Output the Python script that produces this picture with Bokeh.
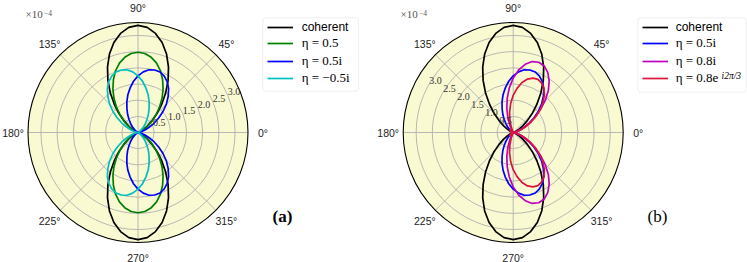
import numpy as np
from bokeh.plotting import figure
from bokeh.models import Range1d, Legend, LegendItem, Label, BoxAnnotation
from bokeh.layouts import row
from bokeh.embed import file_html
from bokeh.resources import INLINE
from bokeh.core.properties import value

# ---------------- data (radius in units of 1e-4, angle in degrees) ----------------
ANGLES_DEG = list(range(0, 365, 5))

COHERENT = [0, 0, 0, 0.01, 0.05, 0.11, 0.21, 0.36, 0.57, 0.83,
            1.14, 1.49, 1.86, 2.23, 2.58, 2.88, 3.11, 3.26, 3.31,
            3.26, 3.11, 2.88, 2.58, 2.23, 1.86, 1.49, 1.14, 0.83,
            0.57, 0.36, 0.21, 0.11, 0.05, 0.01, 0, 0, 0,
            0, 0, 0.01, 0.05, 0.11, 0.21, 0.36, 0.57, 0.83,
            1.14, 1.49, 1.86, 2.23, 2.58, 2.88, 3.11, 3.26, 3.31,
            3.26, 3.11, 2.88, 2.58, 2.23, 1.86, 1.49, 1.14, 0.83,
            0.57, 0.36, 0.21, 0.11, 0.05, 0.01, 0, 0, 0]

ETA_05 = [0, 0, 0.01, 0.03, 0.08, 0.15, 0.26, 0.41, 0.59, 0.80,
          1.04, 1.30, 1.55, 1.80, 2.03, 2.22, 2.36, 2.45, 2.48,
          2.45, 2.36, 2.22, 2.03, 1.80, 1.55, 1.30, 1.04, 0.80,
          0.59, 0.41, 0.26, 0.15, 0.08, 0.03, 0.01, 0, 0,
          0, 0.01, 0.03, 0.08, 0.15, 0.26, 0.41, 0.59, 0.80,
          1.04, 1.30, 1.55, 1.80, 2.03, 2.22, 2.36, 2.45, 2.48,
          2.45, 2.36, 2.22, 2.03, 1.80, 1.55, 1.30, 1.04, 0.80,
          0.59, 0.41, 0.26, 0.15, 0.08, 0.03, 0.01, 0, 0]

ETA_05I = [0, 0.01, 0.04, 0.12, 0.23, 0.38, 0.57, 0.78, 1.01, 1.24,
           1.45, 1.65, 1.81, 1.92, 1.99, 2.00, 1.97, 1.88, 1.75,
           1.59, 1.40, 1.21, 1.01, 0.81, 0.64, 0.48, 0.34, 0.24,
           0.15, 0.09, 0.05, 0.03, 0.01, 0, 0, 0, 0,
           0, 0, 0, 0.01, 0.03, 0.05, 0.09, 0.15, 0.24,
           0.34, 0.48, 0.64, 0.81, 1.01, 1.21, 1.40, 1.59, 1.75,
           1.88, 1.97, 2.00, 1.99, 1.92, 1.81, 1.65, 1.45, 1.24,
           1.01, 0.78, 0.57, 0.38, 0.23, 0.12, 0.04, 0.01, 0]

ETA_M05I = [0, 0, 0, 0, 0.01, 0.03, 0.05, 0.09, 0.15, 0.24,
            0.34, 0.48, 0.64, 0.81, 1.01, 1.21, 1.40, 1.59, 1.75,
            1.88, 1.97, 2.00, 1.99, 1.92, 1.81, 1.65, 1.45, 1.24,
            1.01, 0.78, 0.57, 0.38, 0.23, 0.12, 0.04, 0.01, 0,
            0.01, 0.04, 0.12, 0.23, 0.38, 0.57, 0.78, 1.01, 1.24,
            1.45, 1.65, 1.81, 1.92, 1.99, 2.00, 1.97, 1.88, 1.75,
            1.59, 1.40, 1.21, 1.01, 0.81, 0.64, 0.48, 0.34, 0.24,
            0.15, 0.09, 0.05, 0.03, 0.01, 0, 0, 0, 0]

ETA_08I = [0, 0, 0.03, 0.08, 0.19, 0.35, 0.56, 0.82, 1.10, 1.40,
           1.69, 1.94, 2.14, 2.27, 2.31, 2.27, 2.14, 1.94, 1.68,
           1.38, 1.07, 0.76, 0.48, 0.23, 0.04, 0.04, 0.07, 0.09,
           0.09, 0.08, 0.06, 0.04, 0.02, 0.01, 0, 0, 0,
           0, 0, 0.01, 0.02, 0.04, 0.06, 0.08, 0.09, 0.09,
           0.07, 0.04, 0.04, 0.23, 0.48, 0.76, 1.07, 1.38, 1.68,
           1.94, 2.14, 2.27, 2.31, 2.27, 2.14, 1.94, 1.69, 1.40,
           1.10, 0.82, 0.56, 0.35, 0.19, 0.08, 0.03, 0, 0]

ETA_08E = [0, 0.01, 0.05, 0.13, 0.26, 0.42, 0.63, 0.85, 1.08, 1.30,
           1.50, 1.66, 1.76, 1.81, 1.79, 1.71, 1.57, 1.37, 1.15,
           0.90, 0.64, 0.40, 0.17, 0.01, 0.06, 0.10, 0.13, 0.14,
           0.13, 0.11, 0.08, 0.05, 0.03, 0.01, 0, 0, 0,
           0, 0, 0.01, 0.03, 0.05, 0.08, 0.11, 0.13, 0.14,
           0.13, 0.10, 0.06, 0.01, 0.17, 0.40, 0.64, 0.90, 1.15,
           1.37, 1.57, 1.71, 1.79, 1.81, 1.76, 1.66, 1.50, 1.30,
           1.08, 0.85, 0.63, 0.42, 0.26, 0.13, 0.05, 0.01, 0]

for _arr in (COHERENT, ETA_05, ETA_05I, ETA_M05I, ETA_08I, ETA_08E):
    assert len(_arr) == len(ANGLES_DEG), len(_arr)

R_MAX = 3.4
R_TICKS = [0.5, 1.0, 1.5, 2.0, 2.5, 3.0]
R_TICK_LABELS = ["0.5", "1.0", "1.5", "2.0", "2.5", "3.0"]
THETA_TICKS = [0, 45, 90, 135, 180, 225, 270, 315]
THETA_TICK_LABELS = ["0°", "45°", "90°", "135°", "180°", "225°", "270°", "315°"]

# ---------------- layout ----------------
H = 262
SCALE = 110 / R_MAX   # px per unit
CY = 132              # centre, px from top
GRID = "#b0b0b0"
BG = "#fafad2"
LEG_ROWS = [26.7, 44.1, 61.6, 79.2]   # legend row centres, px from top


def polar_xy(r, deg):
    t = np.deg2rad(np.asarray(deg, dtype=float))
    r = np.asarray(r, dtype=float)
    return r * np.cos(t), r * np.sin(t)


def make_panel(width, cx, curves, rlabel_angle, tag, tag_style, leg_box, leg_x, standoff,
               off_x, sup_text=None, sup_pos=None):
    dx = lambda px: (px - cx) / SCALE
    dy = lambda py: (CY - py) / SCALE
    p = figure(width=width, height=H, x_range=Range1d(dx(0), dx(width)),
               y_range=Range1d(dy(H), dy(0)), output_backend="svg",
               toolbar_location=None, min_border=0, outline_line_color=None,
               x_axis_type=None, y_axis_type=None)
    p.grid.visible = False

    p.circle(x=[0], y=[0], radius=R_MAX, fill_color=BG, line_color=None)
    p.circle(x=[0] * len(R_TICKS), y=[0] * len(R_TICKS), radius=R_TICKS,
             fill_color=None, line_color=GRID, line_width=0.9)
    sx, sy = polar_xy([R_MAX] * len(THETA_TICKS), THETA_TICKS)
    p.segment(x0=[0] * len(sx), y0=[0] * len(sy), x1=sx, y1=sy,
              line_color=GRID, line_width=0.9)

    renderers = []
    for vals, color, label in curves:
        x, y = polar_xy(vals, ANGLES_DEG)
        r = p.line(x, y, line_color=color, line_width=1.7)
        renderers.append((label, r))

    p.circle(x=[0], y=[0], radius=R_MAX, fill_color=None, line_color="black", line_width=1.1)

    # angular tick labels
    lx, ly = polar_xy([125 / SCALE] * len(THETA_TICKS), THETA_TICKS)
    p.text(x=lx, y=ly, text=THETA_TICK_LABELS, text_align="center", text_baseline="middle",
           text_font=value("Liberation Sans"), text_font_size="10.5px", text_color="#222222")
    # radial tick labels
    rx, ry = polar_xy(R_TICKS, [rlabel_angle] * len(R_TICKS))
    p.text(x=rx, y=ry, text=R_TICK_LABELS, text_align="left", text_baseline="bottom",
           text_font=value("Liberation Serif"), text_font_size="10px", text_color="#333333")

    # offset text  x10^-4
    p.add_layout(Label(x=dx(off_x), y=dy(19.5), text="×10",
                       text_font="Liberation Serif", text_font_size="11px",
                       text_color="#555555", text_baseline="bottom"))
    p.add_layout(Label(x=dx(off_x + 18.5), y=dy(15), text="−4",
                       text_font="Liberation Serif", text_font_size="7.5px",
                       text_color="#555555", text_baseline="bottom"))

    # panel tag
    p.add_layout(Label(x=dx(tag_style[0]), y=dy(216), text=tag, text_align="center",
                       text_baseline="middle", text_font="Liberation Serif",
                       text_font_size="17px", text_font_style=tag_style[1],
                       text_color="black"))

    # legend frame
    l, r_, t, b = leg_box
    p.add_layout(BoxAnnotation(left=dx(l), right=dx(r_), top=dy(t), bottom=dy(b),
                               fill_color="white", fill_alpha=0.85,
                               line_color="#cccccc", line_width=1, border_radius=3))
    common = dict(padding=0, margin=0, border_line_alpha=0, background_fill_alpha=0,
                  glyph_width=26, glyph_height=14, label_height=14, spacing=0,
                  label_standoff=standoff, label_text_color="black")
    for i, (lab, rr) in enumerate(renderers):
        font = ("Liberation Sans", "12px") if i == 0 else ("Liberation Serif", "13px")
        leg = Legend(items=[LegendItem(label=lab, renderers=[rr])],
                     location=(leg_x, H - (LEG_ROWS[i] + 7)),
                     label_text_font=font[0], label_text_font_size=font[1], **common)
        p.add_layout(leg)
    if sup_text:
        p.add_layout(Label(x=dx(sup_pos[0]), y=dy(sup_pos[1]), text=sup_text,
                           text_font="Liberation Serif", text_font_size="9.5px",
                           text_font_style="italic", text_color="black",
                           text_baseline="bottom"))
    return p


pa = make_panel(
    373, 137.5,
    [(COHERENT, "black", "coherent"),
     (ETA_05, "#008000", "η = 0.5"),
     (ETA_05I, "#0000ff", "η = 0.5i"),
     (ETA_M05I, "#00bfbf", "η = −0.5i")],
    22.5, "(a)", (282, "bold"), (262.3, 358, 17.3, 90.7), 266.7, 9, 25)

pb = make_panel(
    374, 139.7,
    [(COHERENT, "black", "coherent"),
     (ETA_05I, "#0000ff", "η = 0.5i"),
     (ETA_08I, "#bf00bf", "η = 0.8i"),
     (ETA_08E, "#dc143c", "η = 0.8e")],
    150, "(b)", (284, "normal"), (264.3, 372.7, 17.3, 91.7), 268.7, 8, 27,
    sup_text="i2π/3", sup_pos=(348, 80.5))

layout = row(pa, pb)
open("out.html", "w").write(file_html(layout, INLINE))
